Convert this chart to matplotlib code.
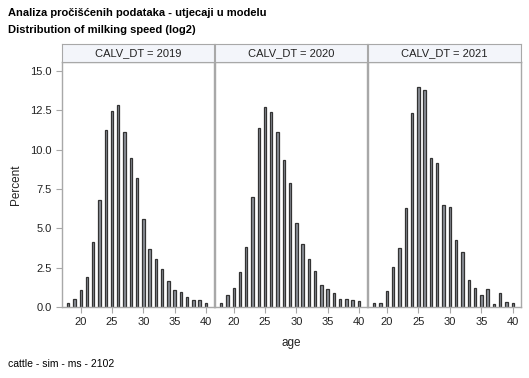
import matplotlib.pyplot as plt

plt.rcParams['font.family'] = ['Liberation Sans', 'DejaVu Sans']

ages = list(range(18, 41))
godine = ['2019', '2020', '2021']
pct_2019 = [0.25, 0.49, 1.06, 1.91, 4.11, 6.80, 11.25, 12.46, 12.86, 11.10, 9.49, 8.18,
            5.57, 3.67, 3.07, 2.39, 1.67, 1.10, 0.95, 0.66, 0.44, 0.47, 0.28]
pct_2020 = [0.28, 0.78, 1.23, 2.22, 3.83, 7.01, 11.36, 12.73, 12.42, 11.10, 9.36, 7.86,
            5.36, 3.98, 3.05, 2.29, 1.42, 1.12, 0.91, 0.53, 0.53, 0.42, 0.36]
pct_2021 = [0.28, 0.28, 1.00, 2.52, 3.77, 6.29, 12.33, 14.00, 13.79, 9.49, 9.13, 6.50,
            6.38, 4.28, 3.50, 1.74, 1.21, 0.78, 1.14, 0.21, 0.89, 0.34, 0.28]
podaci = [pct_2019, pct_2020, pct_2021]

W, H = 529, 378
fig = plt.figure(figsize=(W / 100, H / 100), dpi=100)

rubovi = [(62, 214), (215, 367), (368, 521)]
gore, dolje = 62, 307
boja_okvira = '#a8a8a8'

for i, (x0, x1) in enumerate(rubovi):
    ax = fig.add_axes([x0 / W, 1 - dolje / H, (x1 - x0) / W, (dolje - gore) / H])
    ax.bar(ages, podaci[i], width=0.38, color='#8c9098', edgecolor='#333333', linewidth=0.9)
    ax.set_xlim(17.0, 41.3)
    ax.set_ylim(0, 15.57)
    ax.set_xticks([20, 25, 30, 35, 40])
    ax.set_yticks([0, 2.5, 5, 7.5, 10, 12.5, 15])
    ax.set_yticklabels(['0.0', '2.5', '5.0', '7.5', '10.0', '12.5', '15.0'])
    for s in ax.spines.values():
        s.set_color(boja_okvira)
        s.set_linewidth(1.0)
    ax.tick_params(colors=boja_okvira, labelcolor='#222222', labelsize=8, length=4, width=0.8)
    if i > 0:
        ax.tick_params(axis='y', left=False, labelleft=False)
    # traka s naslovom panela
    st = fig.add_axes([x0 / W, 1 - gore / H, (x1 - x0) / W, 18 / H])
    st.set_xticks([])
    st.set_yticks([])
    st.set_facecolor('#f3f5fa')
    for s in st.spines.values():
        s.set_color(boja_okvira)
    st.text(0.5, 0.5, 'CALV_DT = ' + godine[i], ha='center', va='center', fontsize=8,
            color='#222222', transform=st.transAxes)

fig.text(8 / W, 1 - 13 / H, 'Analiza pročišćenih podataka - utjecaji u modelu',
         fontsize=8, fontweight='bold', va='center', ha='left')
fig.text(8 / W, 1 - 30 / H, 'Distribution of milking speed (log2)',
         fontsize=8, fontweight='bold', va='center', ha='left')
fig.text(16 / W, 1 - 185 / H, 'Percent', rotation=90, fontsize=8.5, va='center', ha='center',
         color='#222222')
fig.text(291 / W, 1 - 343 / H, 'age', fontsize=8.5, va='center', ha='center', color='#222222')
fig.text(8 / W, 1 - 364 / H, 'cattle - sim - ms - 2102', fontsize=7.5, va='center', ha='left')

fig.savefig('out.png', dpi=100)
